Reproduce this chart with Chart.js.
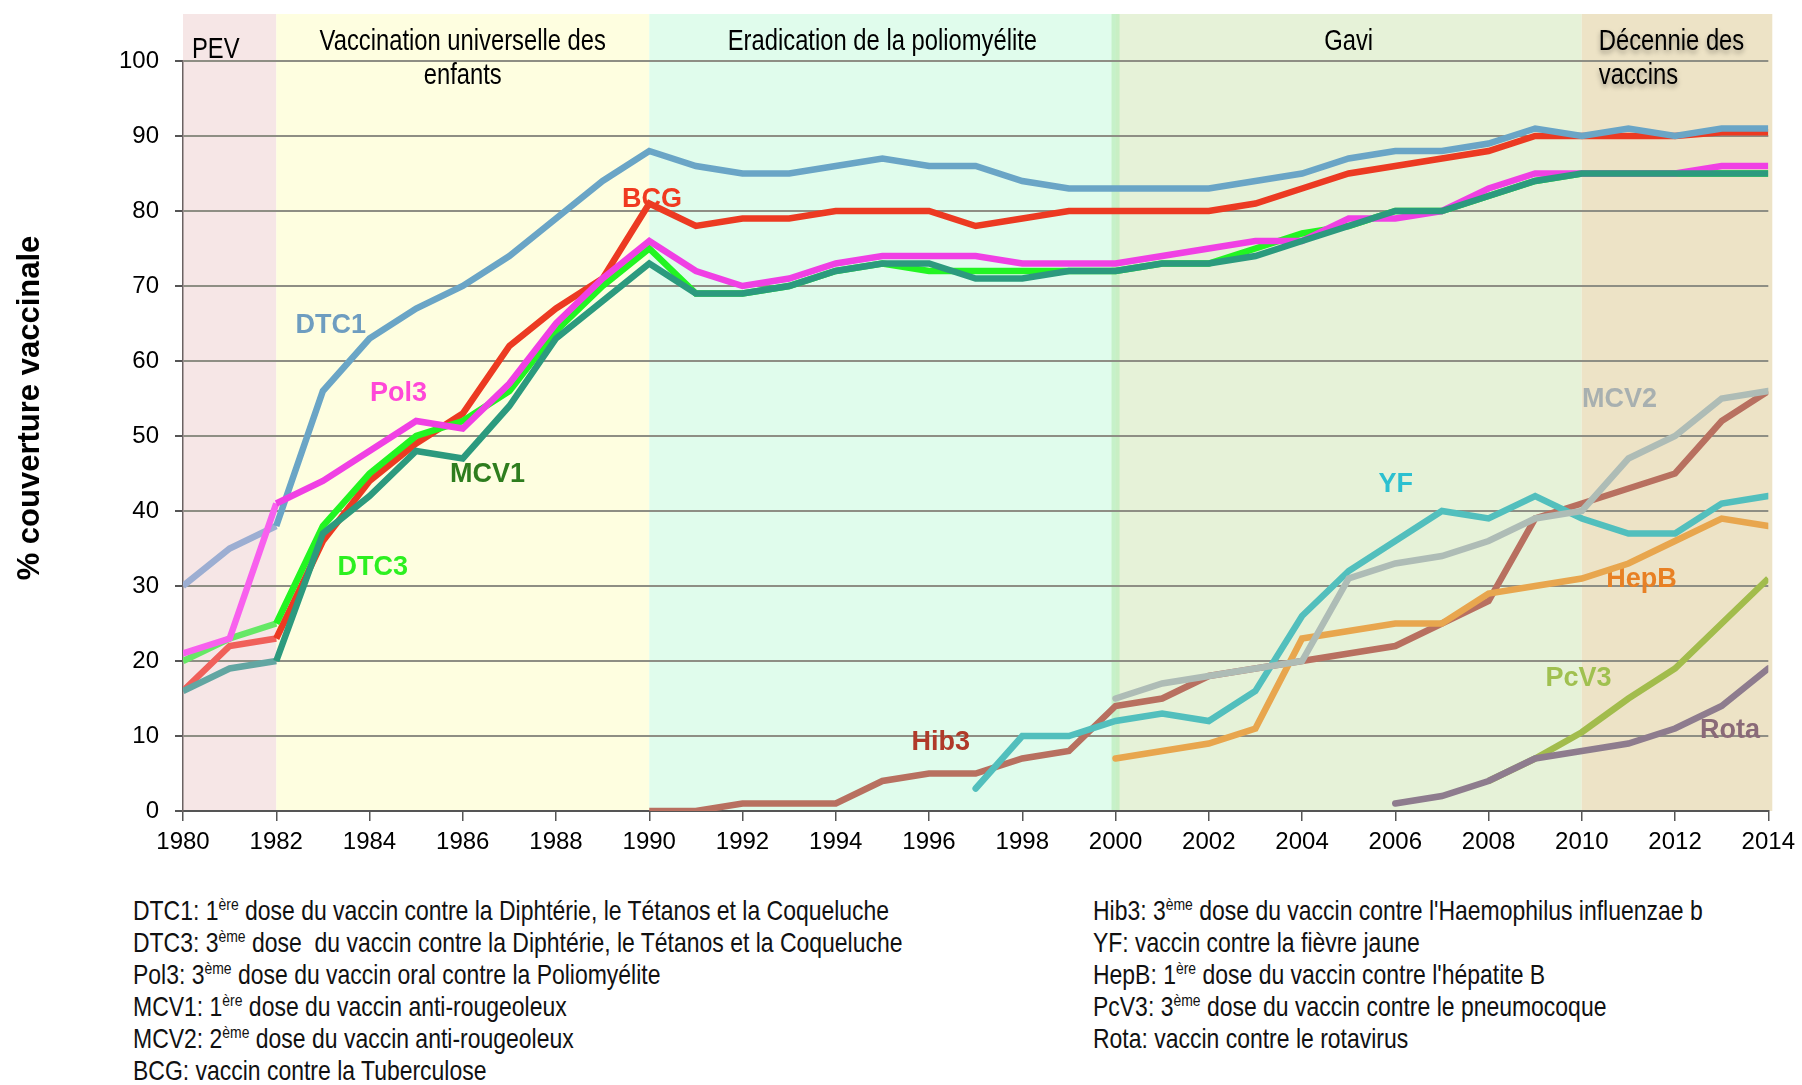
<!DOCTYPE html>
<html lang="fr">
<head>
<meta charset="utf-8">
<title>Couverture vaccinale 1980-2014</title>
<script src="https://cdn.jsdelivr.net/npm/chart.js@4.4.1/dist/chart.umd.min.js"></script>
<style>
  body { margin: 0; background: #fff; }
  .page { position: relative; width: 1802px; height: 1085px; overflow: hidden;
          font-family: 'Liberation Sans Narrow', 'Arial Narrow', 'Liberation Sans', Arial, sans-serif; }
  #chart-box { position: absolute; left: 0; top: 0; width: 1802px; height: 870px; }
  /* no narrow face installed: squeeze the regular face instead */
  .notes { position: absolute; top: 895px; font-size: 28px; line-height: 32px; color: #111;
           white-space: pre; transform: scaleX(0.82); transform-origin: left top; }
  .notes sup { font-size: 17px; vertical-align: 10px; line-height: 0; }
</style>
</head>
<body>
<div class="page">
  <div id="chart-box"><canvas id="coverageChart" width="1802" height="870"></canvas></div>
  <div class="notes" style="left:133px">DTC1: 1<sup>ère</sup> dose du vaccin contre la Diphtérie, le Tétanos et la Coqueluche
DTC3: 3<sup>ème</sup> dose  du vaccin contre la Diphtérie, le Tétanos et la Coqueluche
Pol3: 3<sup>ème</sup> dose du vaccin oral contre la Poliomyélite
MCV1: 1<sup>ère</sup> dose du vaccin anti-rougeoleux
MCV2: 2<sup>ème</sup> dose du vaccin anti-rougeoleux
BCG: vaccin contre la Tuberculose</div>
  <div class="notes" style="left:1093px">Hib3: 3<sup>ème</sup> dose du vaccin contre l'Haemophilus influenzae b
YF: vaccin contre la fièvre jaune
HepB: 1<sup>ère</sup> dose du vaccin contre l'hépatite B
PcV3: 3<sup>ème</sup> dose du vaccin contre le pneumocoque
Rota: vaccin contre le rotavirus</div>
</div>
<script>
// Years on the x axis
const years = [1980, 1981, 1982, 1983, 1984, 1985, 1986, 1987, 1988, 1989,
               1990, 1991, 1992, 1993, 1994, 1995, 1996, 1997, 1998, 1999,
               2000, 2001, 2002, 2003, 2004, 2005, 2006, 2007, 2008, 2009,
               2010, 2011, 2012, 2013, 2014];

// Coverage (%) per vaccine, one value per year (null = not yet introduced)
const dtc1 = [30, 35, 38, 56, 63, 67, 70, 74, 79, 84,
              88, 86, 85, 85, 86, 87, 86, 86, 84, 83,
              83, 83, 83, 84, 85, 87, 88, 88, 89, 91,
              90, 91, 90, 91, 91];
const bcg  = [16, 22, 23, 36, 44, 49, 53, 62, 67, 71,
              81, 78, 79, 79, 80, 80, 80, 78, 79, 80,
              80, 80, 80, 81, 83, 85, 86, 87, 88, 90,
              90, 90, 90, 90.5, 90.5];
const pol3 = [21, 23, 41, 44, 48, 52, 51, 57, 65, 71,
              76, 72, 70, 71, 73, 74, 74, 74, 73, 73,
              73, 74, 75, 76, 76, 79, 79, 80, 83, 85,
              85, 85, 85, 86, 86];
const dtc3 = [20, 23, 25, 38, 45, 50, 52, 56, 64, 70,
              75, 69, 69, 70, 72, 73, 72, 72, 72, 72,
              72, 73, 73, 75, 77, 78, 80, 80, 82, 84,
              85, 85, 85, 85, 85];
const mcv1 = [16, 19, 20, 37, 42, 48, 47, 54, 63, 68,
              73, 69, 69, 70, 72, 73, 73, 71, 71, 72,
              72, 73, 73, 74, 76, 78, 80, 80, 82, 84,
              85, 85, 85, 85, 85];
const hib3 = [null, null, null, null, null, null, null, null, null, null,
              0, 0, 1, 1, 1, 4, 5, 5, 7, 8,
              14, 15, 18, 19, 20, 21, 22, 25, 28, 39,
              41, 43, 45, 52, 56];
const yf   = [null, null, null, null, null, null, null, null, null, null,
              null, null, null, null, null, null, null, 3, 10, 10,
              12, 13, 12, 16, 26, 32, 36, 40, 39, 42,
              39, 37, 37, 41, 42];
const hepb = [null, null, null, null, null, null, null, null, null, null,
              null, null, null, null, null, null, null, null, null, null,
              7, 8, 9, 11, 23, 24, 25, 25, 29, 30,
              31, 33, 36, 39, 38];
const mcv2 = [null, null, null, null, null, null, null, null, null, null,
              null, null, null, null, null, null, null, null, null, null,
              15, 17, 18, 19, 20, 31, 33, 34, 36, 39,
              40, 47, 50, 55, 56];
const pcv3 = [null, null, null, null, null, null, null, null, null, null,
              null, null, null, null, null, null, null, null, null, null,
              null, null, null, null, null, null, null, null, 4, 7,
              10.5, 15, 19, 25, 31];
const rota = [null, null, null, null, null, null, null, null, null, null,
              null, null, null, null, null, null, null, null, null, null,
              null, null, null, null, null, null, 1, 2, 4, 7,
              8, 9, 11, 14, 19];

// Programme periods (background bands)
const periodNames = ['PEV', 'Vaccination universelle des|enfants', 'Eradication de la poliomyélite', 'Gavi', 'Décennie des|vaccins'];
const periodStarts = [1980, 1982, 1990, 2000, 2010];
const periodEnds = [1982, 1990, 2000, 2010, 2014];

const sans = "'Liberation Sans', Arial, sans-serif";
const bandColors = ['#f6e6e6', '#fefee0', '#e0fcec', '#e6f2d8', '#ede3c6'];

function toPoints(values) {
  return years.map((yr, i) => ({ x: yr, y: values[i] }));
}

// lighter colour on the first (PEV) segments
function early(color) {
  return ctx => (ctx.p0.parsed.x < 1982 ? color : undefined);
}

function series(label, values, color, extra) {
  return Object.assign({
    label: label,
    data: toPoints(values),
    borderColor: color,
    backgroundColor: color,
    borderWidth: 6.5,
    pointRadius: 0,
    fill: false,
    spanGaps: false
  }, extra || {});
}

// condensed look: squeeze the text horizontally
function narrowText(ctx, text, x, y, align) {
  ctx.save();
  ctx.translate(x, y);
  ctx.scale(0.82, 1);
  ctx.textAlign = align;
  ctx.fillText(text, 0, 0);
  ctx.restore();
}

// in-chart labels: [text, year, value, colour]
const seriesLabels = [
  ['DTC1', 1983.17, 64.7, '#6e9dc0'],
  ['BCG', 1990.06, 81.5, '#f03a20'],
  ['Pol3', 1984.62, 55.7, '#ff48d8'],
  ['MCV1', 1986.53, 44.8, '#2e7d1e'],
  ['DTC3', 1984.07, 32.4, '#2cf020'],
  ['Hib3', 1996.25, 9.1, '#b03a2a'],
  ['YF', 2006.01, 43.5, '#2cc0d0'],
  ['MCV2', 2010.81, 54.8, '#a8b0b0'],
  ['HepB', 2011.28, 30.8, '#e88024'],
  ['PcV3', 2009.93, 17.6, '#a0c050'],
  ['Rota', 2013.18, 10.7, '#8a6a78']
];

const backdrop = {
  id: 'backdrop',
  beforeDraw(chart) {
    const { ctx, chartArea: a, scales: { x } } = chart;
    const top = a.top - 47;
    ctx.save();
    periodStarts.forEach((start, i) => {
      const x0 = x.getPixelForValue(start);
      const x1 = x.getPixelForValue(periodEnds[i]);
      ctx.fillStyle = bandColors[i];
      ctx.fillRect(x0, top, x1 - x0 + (i === 4 ? 4 : 0), a.bottom - top);
    });
    // thin stripe at the start of the Gavi era
    const xs = x.getPixelForValue(2000);
    ctx.fillStyle = 'rgba(190, 238, 190, 0.75)';
    ctx.fillRect(xs - 4, top, 8, a.bottom - top);

    // period titles
    ctx.fillStyle = '#000';
    ctx.font = '29px ' + sans;
    ctx.textBaseline = 'middle';
    periodNames.forEach((name, i) => {
      const lines = name.split('|');
      const x0 = x.getPixelForValue(periodStarts[i]);
      const x1 = x.getPixelForValue(periodEnds[i]);
      ctx.save();
      if (i === 0) {
        narrowText(ctx, lines[0], x0 + 9, a.top - 11, 'left');
      } else if (i === 4) {
        ctx.shadowColor = 'rgba(0,0,0,0.35)';
        ctx.shadowBlur = 5;
        ctx.shadowOffsetY = 3;
        lines.forEach((ln, k) => narrowText(ctx, ln, x0 + 17, a.top - 19 + k * 34, 'left'));
      } else {
        lines.forEach((ln, k) => narrowText(ctx, ln, (x0 + x1) / 2, a.top - 19 + k * 34, 'center'));
      }
      ctx.restore();
    });

    // y axis title
    ctx.save();
    ctx.translate(30, 408);
    ctx.rotate(-Math.PI / 2);
    ctx.textAlign = 'center';
    ctx.textBaseline = 'middle';
    ctx.font = 'bold 31px ' + sans;
    ctx.fillText('% couverture vaccinale', 0, 0);
    ctx.restore();
    ctx.restore();
  },
  beforeDatasetsDraw(chart) {
    const { ctx, scales: { x, y } } = chart;
    ctx.save();
    ctx.font = 'bold 27px ' + sans;
    ctx.textAlign = 'center';
    ctx.textBaseline = 'middle';
    seriesLabels.forEach(([text, yr, val, color]) => {
      ctx.fillStyle = color;
      ctx.fillText(text, x.getPixelForValue(yr), y.getPixelForValue(val));
    });
    ctx.restore();
  }
};

// index 0 is drawn on top
const datasets = [
  series('MCV1', mcv1, '#2c9a7e', { segment: { borderColor: early('#62a6a2') } }),
  series('Pol3', pol3, '#f040e4', { segment: { borderColor: early('#f860ee') } }),
  series('DTC1', dtc1, '#6aa5c6', { segment: { borderColor: early('#9caed2') } }),
  series('DTC3', dtc3, '#22f522', { segment: { borderColor: early('#66e866') } }),
  series('BCG', bcg, '#ec3a22', { segment: { borderColor: early('#f0605a') } }),
  series('MCV2', mcv2, '#aebcb6', { borderCapStyle: 'round' }),
  series('YF', yf, '#52bfbd', { borderCapStyle: 'round' }),
  series('HepB', hepb, '#e8a64e', { borderCapStyle: 'round' }),
  series('Rota', rota, '#8e7c8e', { borderCapStyle: 'round' }),
  series('PcV3', pcv3, '#a2bc4c'),
  series('Hib3', hib3, '#b87060')
];

new Chart(document.getElementById('coverageChart'), {
  type: 'line',
  data: { datasets: datasets },
  options: {
    responsive: false,
    animation: false,
    layout: { padding: { top: 61, right: 31, left: 0, bottom: 0 } },
    plugins: {
      legend: { display: false },
      tooltip: { enabled: false }
    },
    scales: {
      x: {
        type: 'linear',
        min: 1980,
        max: 2014,
        ticks: {
          stepSize: 2,
          autoSkip: false,
          maxRotation: 0,
          padding: 7,
          color: '#000',
          font: { family: sans, size: 24 },
          callback: v => String(v)
        },
        grid: { drawOnChartArea: false, tickLength: 10, color: '#555', lineWidth: 1.5 },
        border: { color: '#555', width: 2 },
        afterFit: s => { s.height = 59; }
      },
      y: {
        min: 0,
        max: 100,
        ticks: {
          stepSize: 10,
          padding: 16,
          color: '#000',
          font: { family: sans, size: 24 }
        },
        grid: { color: '#8e8e84', lineWidth: 2, tickLength: 8, tickColor: '#555' },
        border: { color: '#6a6262', width: 1.5 },
        afterFit: s => { s.width = 183; }
      }
    }
  },
  plugins: [backdrop]
});
</script>
</body>
</html>
